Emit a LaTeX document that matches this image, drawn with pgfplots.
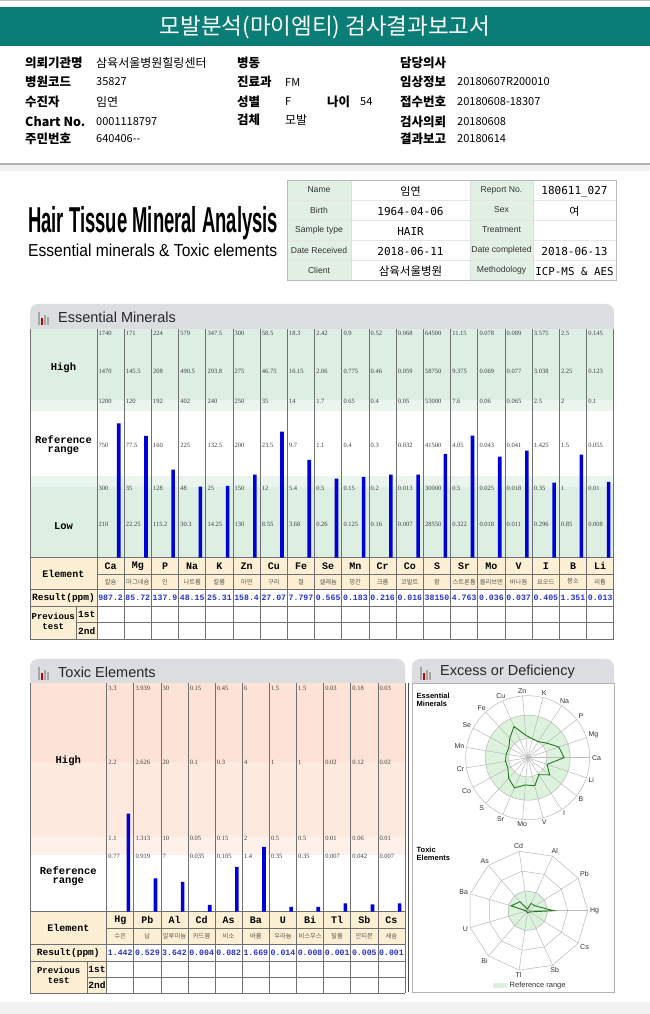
\documentclass[border=0pt]{standalone}
\usepackage{pgfplots}
\pgfplotsset{compat=1.18}
\usepackage{pgfplotstable}
\usepgfplotslibrary{polar}
\usepackage{graphicx}
\usepackage{fontspec}
\setmainfont{Liberation Sans}
\newfontfamily\kr{Noto Sans CJK KR}
\newfontfamily\lmono{Liberation Mono}
\newfontfamily\lserif{Liberation Serif}
\newfontfamily\dmono{DejaVu Sans Mono}
\newcommand\fs[1]{\fontsize{#1bp}{#1bp}\selectfont}
\definecolor{teal1}{HTML}{0B7D77}
\definecolor{eg}{HTML}{DDEEE3}
\definecolor{egl}{HTML}{EAF5EE}
\definecolor{pk1}{HTML}{FCE3D5}
\definecolor{pk2}{HTML}{FDE9DE}
\definecolor{pk3}{HTML}{FEF1EA}
\definecolor{beige}{HTML}{FDEFD3}
\definecolor{hdr}{HTML}{DCDDE0}
\definecolor{infog}{HTML}{E1EFE5}
\definecolor{barblue}{HTML}{0000D8}
\definecolor{resblue}{HTML}{2A35C8}
\definecolor{radfill}{HTML}{DDF2DD}
\definecolor{radline}{HTML}{1F7A1F}
\definecolor{gridc}{HTML}{707070}

% essential minerals: display height of each bar (px above the baseline) and radar angle
\pgfplotstableread{
idx ang h
0 0 134.3
1 18.947 121.7
2 37.895 88
3 56.842 71
4 75.789 71.7
5 94.737 83
6 113.684 126
7 132.632 97.7
8 151.579 79
9 170.526 80.7
10 189.474 83
11 208.421 83
12 227.368 103.7
13 246.316 122
14 265.263 101
15 284.211 107
16 303.158 75
17 322.105 103
18 341.053 75.7
}\esstab
% toxic elements
\pgfplotstableread{
idx ang h
0 0 98
1 32.727 33.4
2 65.455 29.7
3 98.182 6.7
4 130.909 44.7
5 163.636 64.7
6 196.364 4.7
7 229.091 4.7
8 261.818 8.4
9 294.545 7.4
10 327.273 8.4
}\toxtab

\begin{document}
\begin{tikzpicture}[x=1bp,y=1bp]
\useasboundingbox (0,0) rectangle (650,1014);
\fill[white] (0,0) rectangle (650,1014);
\begin{scope}[shift={(0,1014)},yscale=-1]
% ---------- header ----------
\fill[gray!50] (0,0) rectangle (650,1.5);
\fill[teal1] (0,7) rectangle (650,46);
\node[white,font=\kr\fs{22.5}] at (325,27.5) {모발분석(마이엠티) 검사결과보고서};
\tikzset{lab/.style={anchor=west,inner sep=0,font=\kr\bfseries\fs{12.5}},
         val/.style={anchor=west,inner sep=0,font=\kr\fs{11}},
         kval/.style={anchor=west,inner sep=0,font=\kr\fs{12}}}
\node[lab] at (25,63) {의뢰기관명}; \node[kval] at (96,63) {삼육서울병원힐링센터};
\node[lab] at (237,63) {병동}; \node[lab] at (400,63) {담당의사};
\node[lab] at (25,82) {병원코드}; \node[val] at (96,82) {35827};
\node[lab] at (237,82) {진료과}; \node[val] at (285,82) {FM};
\node[lab] at (400,82) {임상정보}; \node[val] at (457,82) {20180607R200010};
\node[lab] at (25,101.5) {수진자}; \node[kval] at (96,101.5) {임연};
\node[lab] at (237,101.5) {성별}; \node[val] at (285,101.5) {F};
\node[lab] at (327,101.5) {나이}; \node[val] at (360,101.5) {54};
\node[lab] at (400,101.5) {접수번호}; \node[val] at (457,101.5) {20180608-18307};
\node[lab] at (25,122) {Chart No.}; \node[val] at (96,122) {0001118797};
\node[lab] at (237,120) {검체}; \node[kval] at (285,120) {모발};
\node[lab] at (400,122) {검사의뢰}; \node[val] at (457,122) {20180608};
\node[lab] at (25,139) {주민번호}; \node[val] at (96,139) {640406--};
\node[lab] at (400,139) {결과보고}; \node[val] at (457,139) {20180614};
% separator
\fill[gray!12] (0,164) rectangle (650,171);
\draw[gray!60,line width=1.2] (0,164) -- (650,164);
% ---------- logo ----------
\node[anchor=base west,inner sep=0] at (28,233) {\resizebox{250bp}{\height}{\fs{36}\bfseries Hair Tissue Mineral Analysis}};
\node[anchor=base west,inner sep=0] at (28,257) {\resizebox{249bp}{\height}{\fs{17.3}Essential minerals \& Toxic elements}};
% ---------- info table ----------
\fill[infog] (287,180) rectangle (351,280);
\fill[infog] (470,180) rectangle (533,280);
\foreach \y in {200,220,240,260} \draw[gray!20] (287,\y) -- (616,\y);
\foreach \x in {351,470,533} \draw[gray!25] (\x,180) -- (\x,280);
\draw[gray!55] (287,180) rectangle (616,280);
\foreach \y/\a/\b in {190/Name/Report No.,210/Birth/Sex,230/Sample type/Treatment,250/Date Received/Date completed,270/Client/Methodology}{
  \node[font=\fs{8.6},text=black!80] at (319,\y) {\a};
  \node[font=\fs{8.6},text=black!80] at (501.5,\y) {\b};}
\node[font=\kr\fs{11}] at (410.5,191.5) {임연};
\node[font=\dmono\fs{11}] at (410.5,211.5) {1964-04-06};
\node[font=\dmono\fs{11}] at (410.5,231.5) {HAIR};
\node[font=\dmono\fs{11}] at (410.5,251.5) {2018-06-11};
\node[font=\kr\fs{11.5}] at (410.5,271.5) {삼육서울병원};
\node[font=\dmono\fs{11}] at (574.5,191.5) {180611\_027};
\node[font=\kr\fs{11}] at (574.5,211.5) {여};
\node[font=\dmono\fs{11}] at (574.5,251.5) {2018-06-13};
\node[font=\dmono\fs{10.8}] at (574.5,271.5) {ICP-MS \& AES};
% ---------- section headers ----------
\newcommand\sechead[4]{%
  \fill[hdr] (#1,#3+25) {[rounded corners=8] -- (#1,#3) -- (#2,#3)} -- (#2,#3+25) -- cycle;
  \fill[gray!70] (#1+8,#3+8) rectangle (#1+9.6,#3+21);
  \fill[red!75!black] (#1+11,#3+14) rectangle (#1+12.8,#3+21);
  \fill[gray!70] (#1+14.2,#3+11) rectangle (#1+15.8,#3+21);
  \fill[gray!70] (#1+17.2,#3+13) rectangle (#1+18.8,#3+21);
  \node[anchor=west,inner sep=0,font=\fs{14.5},text=black!85] at (#1+28,#3+13) {#4};}
\sechead{30}{614}{304}{Essential Minerals}
\sechead{30}{405}{659}{Toxic Elements}
\sechead{412}{614}{659}{Excess or Deficiency}
% ---------- essential table ----------
\fill[eg] (30,329) rectangle (614,400);
\fill[egl] (30,400) rectangle (614,411);
\fill[egl] (30,476) rectangle (614,487);
\fill[eg] (30,487) rectangle (614,557.7);
\fill[beige] (30,557.7) rectangle (614,589.3);
\fill[beige] (30,589.3) rectangle (97,639.3);
\foreach \i in {0,...,19}{\draw[gridc,line width=0.7] (97+27.2*\i,329) -- (97+27.2*\i,639.3);}
\draw[gridc,line width=0.7] (30,329) -- (30,639.3);
\draw[gridc,line width=0.7] (30,557.7) -- (614,557.7);
\draw[gridc,line width=0.7] (97,574) -- (614,574);
\draw[gridc,line width=0.7] (30,589.3) -- (614,589.3);
\draw[gridc,line width=0.7] (30,606.7) -- (614,606.7);
\draw[gridc,line width=0.7] (76.7,622.7) -- (614,622.7);
\draw[gridc,line width=0.7] (30,639.3) -- (614,639.3);
\draw[gridc,line width=0.7] (76.7,606.7) -- (76.7,639.3);
\tikzset{sm/.style={anchor=west,inner sep=0,font=\lserif\fs{6.5},text=black!75},
  hd/.style={inner sep=0,font=\lmono\bfseries\fs{10.5},align=center}}
\node[hd] at (63.5,368) {High};
\node[hd] at (63.5,445) {Reference\\[-1.5bp]range};
\node[hd] at (63.5,526.5) {Low};
\node[hd,font=\lmono\bfseries\fs{10}] at (63.5,573.5) {Element};
\node[hd,font=\lmono\bfseries\fs{9.5}] at (63.5,598) {Result(ppm)};
\node[hd,font=\lmono\bfseries\fs{9}] at (53.3,621) {Previous\\[1bp]test};
\node[hd,font=\lmono\bfseries\fs{9.5}] at (86.8,614.7) {1st};
\node[hd,font=\lmono\bfseries\fs{9.5}] at (86.8,631) {2nd};
\foreach \i/\s/\k/\r/\a/\b/\c/\d/\e/\f in {
0/Ca/칼슘/987.2/1740/1470/1200/750/300/210,
1/Mg/마그네슘/85.72/171/145.5/120/77.5/35/22.25,
2/P/인/137.9/224/208/192/160/128/115.2,
3/Na/나트륨/48.15/579/490.5/402/225/48/30.3,
4/K/칼륨/25.31/347.5/293.8/240/132.5/25/14.25,
5/Zn/아연/158.4/300/275/250/200/150/130,
6/Cu/구리/27.07/58.5/46.75/35/23.5/12/8.55,
7/Fe/철/7.797/18.3/16.15/14/9.7/5.4/3.68,
8/Se/셀레늄/0.565/2.42/2.06/1.7/1.1/0.5/0.26,
9/Mn/망간/0.183/0.9/0.775/0.65/0.4/0.15/0.125,
10/Cr/크롬/0.216/0.52/0.46/0.4/0.3/0.2/0.16,
11/Co/코발트/0.016/0.068/0.059/0.05/0.032/0.013/0.007,
12/S/황/38150/64500/58750/53000/41500/30000/28550,
13/Sr/스트론튬/4.763/11.15/9.375/7.6/4.05/0.5/0.322,
14/Mo/몰리브덴/0.036/0.078/0.069/0.06/0.043/0.025/0.018,
15/V/바나듐/0.037/0.089/0.077/0.065/0.041/0.018/0.011,
16/I/요오드/0.405/3.575/3.038/2.5/1.425/0.35/0.296,
17/B/붕소/1.351/2.5/2.25/2/1.5/1/0.85,
18/Li/리튬/0.013/0.145/0.123/0.1/0.055/0.01/0.008}{
  \pgfmathsetmacro\cx{97+27.2*\i}
  \node[sm] at (\cx+1.5,333.5) {\a};
  \node[sm] at (\cx+1.5,371) {\b};
  \node[sm] at (\cx+1.5,401) {\c};
  \node[sm] at (\cx+1.5,445) {\d};
  \node[sm] at (\cx+1.5,488.5) {\e};
  \node[sm] at (\cx+1.5,524.5) {\f};
  \node[inner sep=0,font=\lmono\bfseries\fs{10}] at (\cx+13.6,566) {\s};
  \node[inner sep=0,font=\kr\fs{6.3},text=black!65] at (\cx+13.6,581.7) {\k};
  \node[inner sep=0,font=\lmono\bfseries\fs{8.2},text=resblue] at (\cx+13.6,598) {\r};
}
% ---------- toxic table ----------
\fill[pk1] (30,683) rectangle (405,761.7);
\fill[pk2] (30,761.7) rectangle (405,836.7);
\fill[pk3] (30,836.7) rectangle (405,855);
\fill[beige] (30,911.7) rectangle (405,944.3);
\fill[beige] (30,944.3) rectangle (106.7,993.3);
\foreach \i in {0,...,11}{\draw[gridc,line width=0.7] (106.7+27.12*\i,683) -- (106.7+27.12*\i,993.3);}
\draw[gridc,line width=0.7] (30,683) -- (30,993.3);
\draw[gridc,line width=0.7] (30,911.7) -- (405,911.7);
\draw[gridc,line width=0.7] (106.7,928.3) -- (405,928.3);
\draw[gridc,line width=0.7] (30,944.3) -- (405,944.3);
\draw[gridc,line width=0.7] (30,961) -- (405,961);
\draw[gridc,line width=0.7] (87.3,977.7) -- (405,977.7);
\draw[gridc,line width=0.7] (30,993.3) -- (405,993.3);
\draw[gridc,line width=0.7] (87.3,961) -- (87.3,993.3);
\draw[black!70,line width=1] (408,683) -- (408,992);
\node[hd] at (68.3,761) {High};
\node[hd] at (68.3,876) {Reference\\[-1.5bp]range};
\node[hd,font=\lmono\bfseries\fs{10}] at (68.3,928) {Element};
\node[hd,font=\lmono\bfseries\fs{9.5}] at (68.3,952.7) {Result(ppm)};
\node[hd,font=\lmono\bfseries\fs{9}] at (58.7,975) {Previous\\[1bp]test};
\node[hd,font=\lmono\bfseries\fs{9.5}] at (97,969.3) {1st};
\node[hd,font=\lmono\bfseries\fs{9.5}] at (97,985.5) {2nd};
\foreach \i/\s/\k/\r/\a/\b/\c/\d in {
0/Hg/수은/1.442/3.3/2.2/1.1/0.77,
1/Pb/납/0.529/3.939/2.626/1.313/0.919,
2/Al/알루미늄/3.642/30/20/10/7,
3/Cd/카드뮴/0.004/0.15/0.1/0.05/0.035,
4/As/비소/0.082/0.45/0.3/0.15/0.105,
5/Ba/바륨/1.669/6/4/2/1.4,
6/U/우라늄/0.014/1.5/1/0.5/0.35,
7/Bi/비스무스/0.008/1.5/1/0.5/0.35,
8/Tl/탈륨/0.001/0.03/0.02/0.01/0.007,
9/Sb/안티몬/0.005/0.18/0.12/0.06/0.042,
10/Cs/세슘/0.001/0.03/0.02/0.01/0.007}{
  \pgfmathsetmacro\cx{106.7+27.12*\i}
  \node[sm] at (\cx+1.5,688.5) {\a};
  \node[sm] at (\cx+1.5,762.5) {\b};
  \node[sm] at (\cx+1.5,838) {\c};
  \node[sm] at (\cx+1.5,856.5) {\d};
  \node[inner sep=0,font=\lmono\bfseries\fs{10}] at (\cx+13.56,920) {\s};
  \node[inner sep=0,font=\kr\fs{6.3},text=black!65] at (\cx+13.56,936.3) {\k};
  \node[inner sep=0,font=\lmono\bfseries\fs{8.2},text=resblue] at (\cx+13.56,952.7) {\r};
}
% ---------- excess or deficiency panel ----------
\draw[gray!60] (412,683) rectangle (614,992);
\node[anchor=north west,align=left,inner sep=0,font=\bfseries\fontsize{7.5bp}{8.8bp}\selectfont] at (416.5,692.5) {Essential\\Minerals};
\node[anchor=north west,align=left,inner sep=0,font=\bfseries\fontsize{7.5bp}{8.8bp}\selectfont] at (416.5,846.5) {Toxic\\Elements};
% essential radar grid
\begin{scope}[shift={(527.7,757.7)}]
  \fill[radfill,even odd rule] (0,0) circle (42.5) (0,0) circle (19.2);
  \foreach \i/\n in {0/Ca,1/Mg,2/P,3/Na,4/K,5/Zn,6/Cu,7/Fe,8/Se,9/Mn,10/Cr,11/Co,12/S,13/Sr,14/Mo,15/V,16/I,17/B,18/Li}{
    \pgfmathsetmacro\ang{\i*360/19}
    \pgfmathsetmacro\anc{\ang+180}
    \draw[gray!55,line width=0.5] (0,0) -- (-\ang:62);
    \node[anchor=\anc,inner sep=0.6,font=\fs{7},text=black!80] at (-\ang:63.5) {\n};}
  \foreach \r in {19.2,42.5,62} \draw[gray!55,line width=0.5] (0,0) circle (\r);
\end{scope}
% toxic radar grid
\begin{scope}[shift={(527.7,910.7)}]
  \fill[radfill] (0,0) circle (20);
  \foreach \r in {20,40,60}{
    \draw[gray!55,line width=0.5] (0:\r) \foreach \j in {1,...,10}{ -- (-\j*360/11:\r)} -- cycle;}
  \foreach \i/\n in {0/Hg,1/Pb,2/Al,3/Cd,4/As,5/Ba,6/U,7/Bi,8/Tl,9/Sb,10/Cs}{
    \pgfmathsetmacro\ang{\i*360/11}
    \pgfmathsetmacro\anc{\ang+180}
    \draw[gray!55,line width=0.5] (0,0) -- (-\ang:60);
    \node[anchor=\anc,inner sep=0.6,font=\fs{7},text=black!80] at (-\ang:61.5) {\n};}
\end{scope}
\fill[radfill] (493,983.5) rectangle (507,988.5);
\node[anchor=west,inner sep=0,font=\fs{7.5},text=black!80] at (509.5,986) {Reference range};
% bottom band
\fill[gray!10] (0,1002) rectangle (650,1014);
\end{scope}
% ---------- bars ----------
\begin{axis}[at={(97bp,456.3bp)},anchor=south west,scale only axis,width=517bp,height=228.7bp,
  xmin=0,xmax=19,ymin=0,ymax=228.7,hide axis,clip=false]
\addplot[ybar,bar width=3.6bp,fill=barblue,draw=none] table[x expr=\thisrow{idx}+0.8,y=h]{\esstab};
\end{axis}
\begin{axis}[at={(106.7bp,102.3bp)},anchor=south west,scale only axis,width=298.3bp,height=228.7bp,
  xmin=0,xmax=11,ymin=0,ymax=228.7,hide axis,clip=false]
\addplot[ybar,bar width=3.6bp,fill=barblue,draw=none] table[x expr=\thisrow{idx}+0.8,y=h]{\toxtab};
\end{axis}
% ---------- radar data ----------
\begin{polaraxis}[at={(527.7bp,256.3bp)},anchor=center,scale only axis,width=124bp,height=124bp,
  ymin=0,ymax=229,hide axis,clip=false]
\addplot[draw=radline,line width=0.9bp,mark=none] table[x=ang,y=h]{\esstab} -- cycle;
\end{polaraxis}
\begin{polaraxis}[at={(527.7bp,103.3bp)},anchor=center,scale only axis,width=120bp,height=120bp,
  ymin=0,ymax=225,hide axis,clip=false]
\addplot[draw=radline,line width=0.9bp,mark=none] table[x=ang,y=h]{\toxtab} -- cycle;
\end{polaraxis}
\end{tikzpicture}
\end{document}
